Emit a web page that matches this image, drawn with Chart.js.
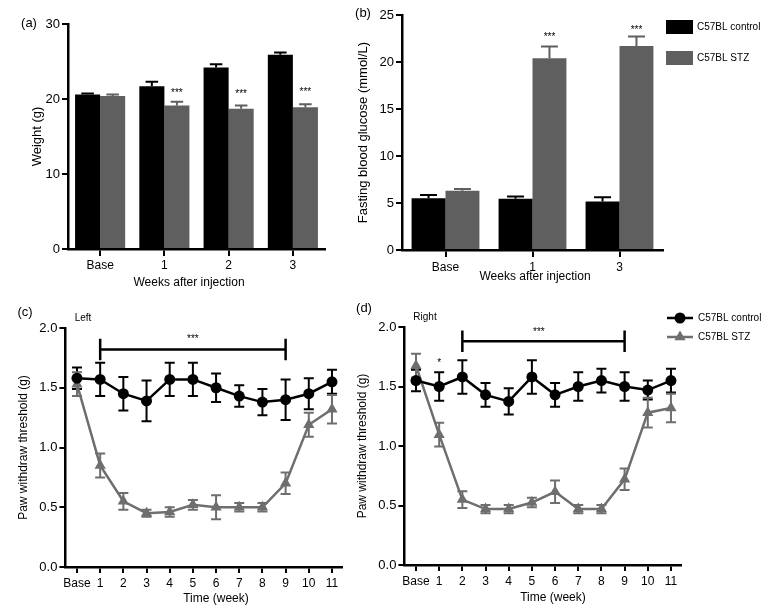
<!DOCTYPE html>
<html>
<head>
<meta charset="utf-8">
<script src="https://cdn.jsdelivr.net/npm/chart.js@4.4.1/dist/chart.umd.min.js"></script>
<style>
html, body { margin: 0; padding: 0; background: #fff; }
#wrap { position: relative; width: 774px; height: 612px; }
#wrap canvas { position: absolute; left: 0; top: 0; }
</style>
</head>
<body>
<div id="wrap">
  <canvas id="chartA" width="774" height="612"></canvas>
  <canvas id="chartB" width="774" height="612"></canvas>
  <canvas id="chartC" width="774" height="612"></canvas>
  <canvas id="chartD" width="774" height="612"></canvas>
</div>
<script>
// (a) body weight
const weightLabels = ['Base', '1', '2', '3'];
const weightCtrl = [20.6, 21.7, 24.2, 25.9];
const weightCtrlErr = [0.15, 0.6, 0.45, 0.3];
const weightStz = [20.4, 19.15, 18.7, 18.9];
const weightStzErr = [0.2, 0.5, 0.45, 0.4];

// (b) fasting blood glucose
const glucoseLabels = ['Base', '1', '3'];
const glucoseCtrl = [5.5, 5.45, 5.15];
const glucoseCtrlErr = [0.35, 0.25, 0.45];
const glucoseStz = [6.3, 20.4, 21.7];
const glucoseStzErr = [0.2, 1.25, 1.0];

// (c)/(d) paw withdraw threshold
const weeks = [0, 1, 2, 3, 4, 5, 6, 7, 8, 9, 10, 11];
const weekLabels = ['Base', '1', '2', '3', '4', '5', '6', '7', '8', '9', '10', '11'];
const leftCtrl = [1.58, 1.57, 1.45, 1.39, 1.57, 1.57, 1.50, 1.43, 1.38, 1.40, 1.45, 1.55];
const leftCtrlErr = [0.09, 0.14, 0.14, 0.17, 0.14, 0.14, 0.12, 0.09, 0.11, 0.17, 0.13, 0.10];
const leftStz = [1.53, 0.85, 0.55, 0.45, 0.46, 0.52, 0.50, 0.50, 0.50, 0.70, 1.19, 1.32];
const leftStzErr = [0.10, 0.10, 0.07, 0.03, 0.04, 0.04, 0.10, 0.035, 0.035, 0.09, 0.10, 0.12];
const rightCtrl = [1.55, 1.50, 1.58, 1.43, 1.375, 1.58, 1.43, 1.50, 1.55, 1.50, 1.47, 1.55];
const rightCtrlErr = [0.09, 0.12, 0.14, 0.10, 0.11, 0.14, 0.10, 0.12, 0.10, 0.12, 0.08, 0.10];
const rightStz = [1.675, 1.095, 0.55, 0.47, 0.47, 0.525, 0.615, 0.47, 0.47, 0.72, 1.28, 1.32];
const rightStzErr = [0.10, 0.10, 0.07, 0.035, 0.035, 0.04, 0.095, 0.035, 0.035, 0.09, 0.125, 0.12];

const FONT = "'Liberation Sans', Arial, Helvetica, sans-serif";
const BLACK = '#000000';
const GREY_BAR = '#5f5f5f';
const GREY_LINE = '#6e6e6e';

Chart.defaults.font.family = FONT;
Chart.defaults.color = BLACK;
Chart.defaults.animation = false;

// error bars, significance marks, free text and legends
const decor = {
    id: 'decor',
    beforeDatasetsDraw(chart) {
        const ctx = chart.ctx;
        chart.data.datasets.forEach((ds, i) => {
            if (!ds.errors) return;
            const meta = chart.getDatasetMeta(i);
            const yScale = chart.scales[meta.yAxisID];
            ctx.save();
            ctx.strokeStyle = ds.borderColor || ds.backgroundColor;
            ctx.lineWidth = 2;
            meta.data.forEach((el, j) => {
                const raw = ds.data[j];
                const val = typeof raw === 'object' ? raw.y : raw;
                const e = ds.errors[j];
                const top = yScale.getPixelForValue(val + e);
                const bot = yScale.getPixelForValue(ds.upOnly ? val : val - e);
                const half = ds.upOnly ? el.width / 4 : 5;
                ctx.beginPath();
                ctx.moveTo(el.x, top); ctx.lineTo(el.x, bot);
                ctx.moveTo(el.x - half, top); ctx.lineTo(el.x + half, top);
                if (!ds.upOnly) { ctx.moveTo(el.x - half, bot); ctx.lineTo(el.x + half, bot); }
                ctx.stroke();
            });
            ctx.restore();
        });
    },
    afterDatasetsDraw(chart, args, opts) {
        const ctx = chart.ctx;
        const xs = chart.scales.x, ys = chart.scales.y;
        ctx.save();
        ctx.fillStyle = BLACK;
        ctx.strokeStyle = BLACK;

        (opts.brackets || []).forEach(b => {
            const x1 = xs.getPixelForValue(b.from), x2 = xs.getPixelForValue(b.to);
            const y = ys.getPixelForValue(b.y);
            const yt = ys.getPixelForValue(b.y + b.tick), yb = ys.getPixelForValue(b.y - b.tick);
            ctx.lineWidth = 2.5;
            ctx.beginPath();
            ctx.moveTo(x1, y); ctx.lineTo(x2, y);
            ctx.moveTo(x1, yt); ctx.lineTo(x1, yb);
            ctx.moveTo(x2, yt); ctx.lineTo(x2, yb);
            ctx.stroke();
        });

        ctx.font = '10px ' + FONT;
        ctx.textAlign = 'center';
        ctx.textBaseline = 'alphabetic';
        (opts.stars || []).forEach(s => {
            let px;
            if (s.ds !== undefined) px = chart.getDatasetMeta(s.ds).data[s.index].x;
            else px = xs.getPixelForValue(s.x);
            ctx.fillText(s.text, px, ys.getPixelForValue(s.y) + 5.8);
        });

        (opts.texts || []).forEach(t => {
            ctx.font = t.size + 'px ' + FONT;
            ctx.textAlign = 'center';
            ctx.textBaseline = 'middle';
            ctx.fillText(t.text, t.x, t.y);
        });

        const lg = opts.legend;
        if (lg) {
            chart.data.datasets.forEach((ds, i) => {
                const cy = lg.y + i * lg.gap;
                const col = ds.borderColor || ds.backgroundColor;
                if (lg.type === 'box') {
                    ctx.fillStyle = col;
                    ctx.fillRect(lg.x, cy - 7, 27, 14);
                } else {
                    ctx.strokeStyle = col;
                    ctx.fillStyle = col;
                    ctx.lineWidth = 2.5;
                    ctx.beginPath();
                    ctx.moveTo(lg.x, cy); ctx.lineTo(lg.x + 26, cy);
                    ctx.stroke();
                    const mx = lg.x + 13, r = ds.pointRadius;
                    ctx.beginPath();
                    if (ds.pointStyle === 'triangle') {
                        ctx.moveTo(mx, cy - r);
                        ctx.lineTo(mx + r * 0.866, cy + r * 0.5);
                        ctx.lineTo(mx - r * 0.866, cy + r * 0.5);
                        ctx.closePath();
                    } else {
                        ctx.arc(mx, cy, r, 0, Math.PI * 2);
                    }
                    ctx.fill();
                }
                ctx.fillStyle = BLACK;
                ctx.font = '10px ' + FONT;
                ctx.textAlign = 'left';
                ctx.textBaseline = 'middle';
                ctx.fillText(ds.label, lg.x + 31, cy);
            });
        }
        ctx.restore();
    }
};

// panel frame: chart area edges in page pixels, y-title centre, x-axis band height
function frame(box) {
    const scaleLeft = box.yTitleX - box.titleSize * 0.6;
    return {
        padding: { left: scaleLeft, top: box.top, right: 774 - box.right, bottom: 612 - box.bottom - box.xH },
        yW: box.left - scaleLeft,
        xH: box.xH
    };
}

function yAxis(min, max, step, title, titleSize, fmt, yW) {
    return {
        min: min, max: max,
        ticks: { stepSize: step, padding: 2, font: { size: 13 }, color: BLACK, callback: fmt },
        grid: { display: true, drawOnChartArea: false, drawTicks: true, tickLength: 6, color: BLACK, lineWidth: 2 },
        border: { display: true, color: BLACK, width: 2.5 },
        title: { display: true, text: title, font: { size: titleSize }, padding: 0, color: BLACK },
        afterFit: s => { s.width = yW; s.paddingTop = 0; s.paddingBottom = 0; }
    };
}

function barChart(id, box, labels, ctrl, ctrlErr, stz, stzErr, yOpts, plugOpts) {
    const f = frame(box);
    return new Chart(document.getElementById(id), {
        type: 'bar',
        data: {
            labels: labels,
            datasets: [
                { label: 'C57BL control', data: ctrl, errors: ctrlErr, upOnly: true, backgroundColor: BLACK, borderWidth: 0 },
                { label: 'C57BL STZ', data: stz, errors: stzErr, upOnly: true, backgroundColor: GREY_BAR, borderWidth: 0 }
            ]
        },
        options: {
            responsive: false,
            layout: { padding: f.padding },
            datasets: { bar: { categoryPercentage: 0.78, barPercentage: 1 } },
            plugins: { legend: { display: false }, tooltip: { enabled: false }, decor: plugOpts },
            scales: {
                x: {
                    offset: true,
                    ticks: { padding: box.tickPad, font: { size: 12 }, color: BLACK, maxRotation: 0, autoSkip: false },
                    grid: { display: true, drawOnChartArea: false, offset: false, tickLength: 7, color: BLACK, lineWidth: 2 },
                    border: { display: true, color: BLACK, width: 2.5 },
                    afterFit: s => { s.height = f.xH; s.paddingLeft = 0; s.paddingRight = 0; }
                },
                y: yAxis(yOpts.min, yOpts.max, yOpts.step, yOpts.title, box.titleSize, v => v, f.yW)
            }
        },
        plugins: [decor]
    });
}

function lineChart(id, box, ctrl, ctrlErr, stz, stzErr, plugOpts) {
    const f = frame(box);
    const pts = arr => weeks.map((w, i) => ({ x: w, y: arr[i] }));
    return new Chart(document.getElementById(id), {
        type: 'line',
        data: {
            datasets: [
                { label: 'C57BL control', data: pts(ctrl), errors: ctrlErr, borderColor: BLACK, backgroundColor: BLACK,
                  borderWidth: 2.5, pointStyle: 'circle', pointRadius: 5.5, pointBorderWidth: 0, tension: 0 },
                { label: 'C57BL STZ', data: pts(stz), errors: stzErr, borderColor: GREY_LINE, backgroundColor: GREY_LINE,
                  borderWidth: 2.5, pointStyle: 'triangle', pointRadius: 6.5, pointBorderWidth: 0, tension: 0 }
            ]
        },
        options: {
            responsive: false,
            layout: { padding: f.padding },
            plugins: { legend: { display: false }, tooltip: { enabled: false }, decor: plugOpts },
            scales: {
                x: {
                    type: 'linear', min: -0.5, max: 11.45,
                    afterBuildTicks: s => { s.ticks = weeks.map(v => ({ value: v })); },
                    ticks: { padding: 3, font: { size: 12 }, color: BLACK, maxRotation: 0, autoSkip: false,
                             callback: v => weekLabels[weeks.indexOf(v)] },
                    grid: { display: true, drawOnChartArea: false, tickLength: 6, color: BLACK, lineWidth: 2 },
                    border: { display: true, color: BLACK, width: 2.5 },
                    afterFit: s => { s.height = f.xH; s.paddingLeft = 0; s.paddingRight = 0; }
                },
                y: yAxis(0, 2, 0.5, 'Paw withdraw threshold (g)', box.titleSize, v => v.toFixed(1), f.yW)
            }
        },
        plugins: [decor]
    });
}

barChart('chartA', { left: 68, top: 24, right: 325, bottom: 249, yTitleX: 37, titleSize: 13, xH: 40, tickPad: 2 },
    weightLabels, weightCtrl, weightCtrlErr, weightStz, weightStzErr,
    { min: 0, max: 30, step: 10, title: 'Weight (g)' },
    {
        stars: [
            { ds: 1, index: 1, y: 21.2, text: '***' },
            { ds: 1, index: 2, y: 21.1, text: '***' },
            { ds: 1, index: 3, y: 21.3, text: '***' }
        ],
        texts: [
            { text: '(a)', x: 29, y: 23, size: 13 },
            { text: 'Weeks after injection', x: 189, y: 283, size: 12 }
        ]
    });

barChart('chartB', { left: 402, top: 15, right: 663, bottom: 250, yTitleX: 363, titleSize: 13, xH: 40, tickPad: 3 },
    glucoseLabels, glucoseCtrl, glucoseCtrlErr, glucoseStz, glucoseStzErr,
    { min: 0, max: 25, step: 5, title: 'Fasting blood glucose (mmol/L)' },
    {
        stars: [
            { ds: 1, index: 1, y: 23.0, text: '***' },
            { ds: 1, index: 2, y: 23.75, text: '***' }
        ],
        texts: [
            { text: '(b)', x: 363, y: 13, size: 13 },
            { text: 'Weeks after injection', x: 535, y: 277, size: 12 }
        ],
        legend: { type: 'box', x: 666, y: 27, gap: 31 }
    });

lineChart('chartC', { left: 65.4, top: 328, right: 342.4, bottom: 567, yTitleX: 24, titleSize: 12, xH: 30 },
    leftCtrl, leftCtrlErr, leftStz, leftStzErr,
    {
        brackets: [{ from: 1, to: 9, y: 1.82, tick: 0.09 }],
        stars: [{ x: 5, y: 1.93, text: '***' }],
        texts: [
            { text: '(c)', x: 25, y: 312, size: 13 },
            { text: 'Left', x: 83, y: 318, size: 10 },
            { text: 'Time (week)', x: 216, y: 599, size: 12 }
        ]
    });

lineChart('chartD', { left: 404.4, top: 327, right: 681.4, bottom: 565, yTitleX: 363, titleSize: 12, xH: 30 },
    rightCtrl, rightCtrlErr, rightStz, rightStzErr,
    {
        brackets: [{ from: 2, to: 9, y: 1.88, tick: 0.09 }],
        stars: [
            { x: 5.3, y: 1.98, text: '***' },
            { x: 1, y: 1.72, text: '*' }
        ],
        texts: [
            { text: '(d)', x: 364, y: 308, size: 13 },
            { text: 'Right', x: 425, y: 317, size: 10 },
            { text: 'Time (week)', x: 553, y: 598, size: 12 }
        ],
        legend: { type: 'line', x: 667, y: 318, gap: 19 }
    });
</script>
</body>
</html>
